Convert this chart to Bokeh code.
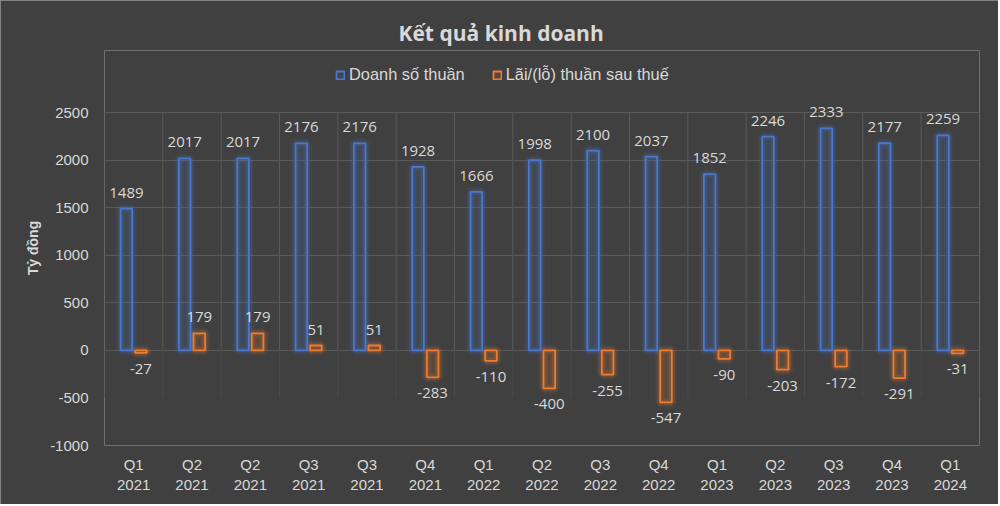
from bokeh.plotting import figure
from bokeh.models import (ColumnDataSource, Range1d, FixedTicker, Legend, LegendItem, Title,
                          CDSView, BooleanFilter)
from bokeh.transform import dodge
from bokeh.core.properties import value
from bokeh.embed import file_html
from bokeh.resources import INLINE

# ---- data ----
quarters = ["Q1\n2021", "Q2\n2021", "Q2\n2021", "Q3\n2021", "Q3\n2021", "Q4\n2021",
            "Q1\n2022", "Q2\n2022", "Q3\n2022", "Q4\n2022",
            "Q1\n2023", "Q2\n2023", "Q3\n2023", "Q4\n2023", "Q1\n2024"]
revenue = [1489, 2017, 2017, 2176, 2176, 1928, 1666, 1998, 2100, 2037, 1852, 2246, 2333, 2177, 2259]
profit = [-27, 179, 179, 51, 51, -283, -110, -400, -255, -547, -90, -203, -172, -291, -31]
y_ticks = [-1000, -500, 0, 500, 1000, 1500, 2000, 2500]
grid_ticks = [0, 500, 1000, 1500, 2000, 2500]
series_names = ["Doanh số thuần", "Lãi/(lỗ) thuần sau thuế"]

BLUE = "#4a78d0"
ORANGE = "#ED7D31"
BG = "#404040"
TXT = "#d9d9d9"
GRID = "#5a5a5a"

n = len(quarters)
xs = list(range(n))
src = ColumnDataSource(dict(
    x=xs, rev=revenue, prof=profit,
    rev_lbl=[str(v) for v in revenue],
    prof_lbl=[str(v) for v in profit],
))
pos_view = CDSView(filter=BooleanFilter([v >= 0 for v in profit]))
neg_view = CDSView(filter=BooleanFilter([v < 0 for v in profit]))

# frame extends above the top gridline so that labels and legend are not clipped
FRAME_TOP_PX, GRID_TOP_PX, GRID_BOT_PX = 50, 112, 445
px_per_unit = (GRID_BOT_PX - GRID_TOP_PX) / (y_ticks[-1] - y_ticks[0])
y_end = y_ticks[-1] + (GRID_TOP_PX - FRAME_TOP_PX) / px_per_unit

p = figure(width=998, height=504, output_backend="svg", toolbar_location=None,
           x_range=Range1d(-0.5, n - 0.5), y_range=Range1d(y_ticks[0], y_end),
           min_border_left=104, min_border_right=19, min_border_top=FRAME_TOP_PX,
           min_border_bottom=504 - GRID_BOT_PX,
           background_fill_color=BG, border_fill_color=BG, outline_line_color=None)
p.styles = {"outline": "1px solid #9a9a9a", "outline-offset": "-1px"}

# grid
p.xgrid.visible = False
p.xgrid.grid_line_color = None
p.ygrid.ticker = FixedTicker(ticks=grid_ticks)
p.ygrid.grid_line_color = GRID
p.ygrid.grid_line_width = 1
bounds = [i - 0.5 for i in range(n + 1)]
p.segment(x0=bounds, x1=bounds, y0=[0] * len(bounds), y1=[grid_ticks[-1]] * len(bounds),
          line_color=GRID, line_width=1)
p.segment(x0=bounds, x1=bounds, y0=[y_ticks[1]] * len(bounds), y1=[0] * len(bounds),
          line_color="#4a4a4a", line_width=1)

W = 0.2
bx = dodge("x", -0.125, range=p.x_range)
ox = dodge("x", 0.125, range=p.x_range)

# glow
for lw, a in [(10, 0.08), (6, 0.16)]:
    p.vbar(x=bx, top="rev", bottom=0, width=W, source=src, fill_alpha=0,
           line_color=BLUE, line_width=lw, line_alpha=a)
    p.vbar(x=ox, top="prof", bottom=0, width=W, source=src, fill_alpha=0,
           line_color=ORANGE, line_width=lw, line_alpha=a)

r1 = p.vbar(x=bx, top="rev", bottom=0, width=W, source=src, fill_color=BLUE, fill_alpha=0.13,
            line_color=BLUE, line_width=1.8)
r2 = p.vbar(x=ox, top="prof", bottom=0, width=W, source=src, fill_color=ORANGE, fill_alpha=0.13,
            line_color=ORANGE, line_width=1.8)

# data labels
p.text(x=bx, y="rev", text="rev_lbl", source=src, text_align="center", text_baseline="bottom",
       y_offset=-11, text_color=TXT, text_font=value("Open Sans"), text_font_size="15px")
p.text(x=ox, y="prof", text="prof_lbl", source=src, view=pos_view, text_align="center",
       text_baseline="bottom", y_offset=-11, text_color=TXT, text_font=value("Open Sans"),
       text_font_size="15px")
p.text(x=ox, y="prof", text="prof_lbl", source=src, view=neg_view, text_align="center",
       text_baseline="top", y_offset=11, text_color=TXT, text_font=value("Open Sans"),
       text_font_size="15px")

# axes
yax = p.yaxis[0]
yax.ticker = FixedTicker(ticks=y_ticks)
yax.major_label_overrides = {v: str(v) for v in y_ticks}
yax.axis_line_color = None
yax.major_tick_line_color = None
yax.minor_tick_line_color = None
yax.major_tick_out = 0
yax.major_tick_in = 0
yax.major_label_standoff = 16
yax.major_label_text_color = TXT
yax.major_label_text_font = "Liberation Sans"
yax.major_label_text_font_size = "15px"
yax.axis_label = "Tỷ đồng"
yax.axis_label_text_font = "Liberation Sans"
yax.axis_label_text_font_style = "bold"
yax.axis_label_text_font_size = "14px"
yax.axis_label_text_color = TXT
yax.axis_label_standoff = 6

xax = p.xaxis[0]
xax.ticker = FixedTicker(ticks=xs)
xax.major_label_overrides = {i: q for i, q in enumerate(quarters)}
xax.axis_line_color = None
xax.major_tick_line_color = None
xax.minor_tick_line_color = None
xax.major_tick_out = 0
xax.major_tick_in = 0
xax.major_label_standoff = 10
xax.major_label_text_color = TXT
xax.major_label_text_font = "Liberation Sans"
xax.major_label_text_font_size = "15px"

# legend (screen offsets from the frame's bottom-left)
legend = Legend(items=[LegendItem(label=series_names[0], renderers=[r1]),
                       LegendItem(label=series_names[1], renderers=[r2])],
                orientation="horizontal", location=(231, 361),
                background_fill_alpha=0, border_line_alpha=0, padding=0, margin=0,
                glyph_width=10, glyph_height=10, label_standoff=4, spacing=27,
                label_text_color=TXT, label_text_font="Liberation Sans",
                label_text_font_size="16.4px")
p.add_layout(legend)

p.title = Title(text="Kết quả kinh doanh", align="left", offset=294, standoff=8,
                text_font="Open Sans", text_font_style="bold", text_font_size="21px",
                text_color=TXT)

open("out.html", "w").write(file_html(p, INLINE))
